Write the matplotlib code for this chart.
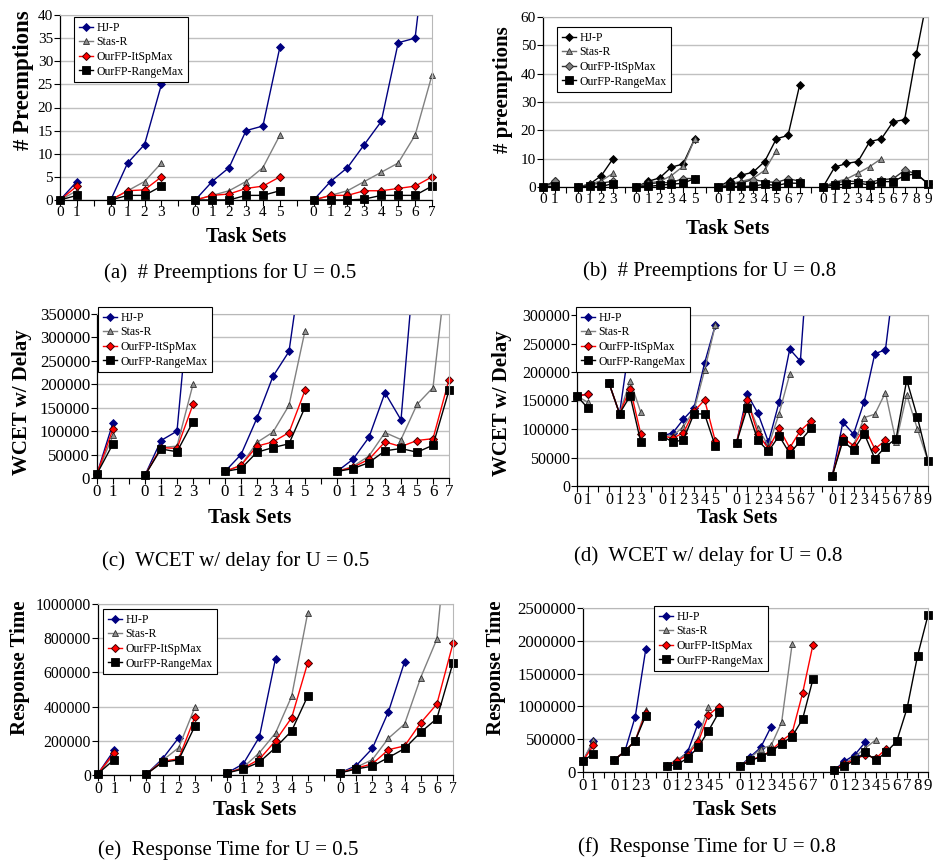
#
# Preemptions, WCET w/ delay and response time per task set (U = 0.5 / 0.8)
#
import numpy as np
import matplotlib
matplotlib.use("Agg")
import matplotlib.pyplot as plt
from matplotlib.ticker import FuncFormatter
from matplotlib.transforms import Bbox, TransformedBbox

nan = np.nan
names = ["HJ-P", "Stas-R", "OurFP-ItSpMax", "OurFP-RangeMax"]

# (a) # preemptions, U = 0.5
a_hjp = [[0, 4], [0, 8, 12, 25], [0, 4, 7, 15, 16, 33], [0, 4, 7, 12, 17, 34, 35, 66]]
a_stas = [[0, 2], [0, 2, 4, 8], [0, 1, 2, 4, 7, 14], [0, 1, 2, 4, 6, 8, 14, 27]]
a_itsp = [[0, 3], [0, 2, 2.2, 5], [0, 1, 1.3, 2.5, 3, 5], [0, 1, 1, 2, 2, 2.5, 3, 5]]
a_range = [[0, 1], [0, 1, 1, 3], [0, 0, 0, 1, 1, 2], [0, 0, 0, 0.2, 1, 1, 1, 3]]

# (b) # preemptions, U = 0.8
b_hjp = [[0, 2], [0, 1, 4, 10], [0, 2, 3.2, 7, 8.1, 17],
         [0, 2.2, 4.2, 5.2, 9, 17, 18.2, 36], [0, 7, 8.3, 9, 16, 17, 23, 23.8, 47, 68]]
b_stas = [[0, 1.2], [0, 1, 2.2, 4.8], [0, 1.4, 2, 4, 7.3, 16.9],
          [0, 1.2, 2, 3, 5.9, 12.8, nan, nan], [0, 1.8, 2.8, 4.9, 7.2, 10, nan, nan, nan, nan]]
b_itsp = [[0, 2], [0, 0.8, 1.4, 2], [0, 1, 1.6, 1.5, 3, 3],
          [0, 0.8, 1.5, 2.6, 1.9, 1.6, 2.9, 2.1], [0, 1.5, 2, 2, 1.7, 2.6, 2.9, 5.9, 4.7, 1.1]]
b_range = [[0, 0.2], [0, 0.2, 0.2, 1.2], [0, 0.2, 0.6, 1, 1.3, 3],
           [0, 0.2, 0.2, 0.3, 1, 0.5, 1.4, 1.3], [0, 0.7, 1, 1.4, 0.7, 1.9, 1.9, 4, 4.7, 1.1]]

# (c) WCET w/ delay, U = 0.5
c_hjp = [[9000, 118000], [6000, 80000, 100000, 470000],
         [14000, 50000, 128000, 217000, 270000, 510000],
         [14000, 40000, 87000, 182000, 124000, 526000, nan, nan]]
c_stas = [[9000, 91000], [6000, 65000, 68000, 200000],
          [14000, 27000, 76000, 98000, 155000, 314000],
          [14000, 25000, 47000, 97000, 82000, 157000, 193000, 494000]]
c_itsp = [[9000, 105000], [6000, 65000, 63000, 157000],
          [14000, 27000, 68000, 77000, 97000, 187000],
          [14000, 23000, 40000, 77000, 67000, 80000, 84000, 210000]]
c_range = [[9000, 73000], [6000, 62000, 56000, 120000],
           [14000, 20000, 55000, 65000, 73000, 151000],
           [14000, 20000, 33000, 58000, 63000, 55000, 70000, 187000]]

# (d) WCET w/ delay, U = 0.8
d_hjp = [[158000, 161000], [181000, 127000, 258000, 260000],
         [88000, 93000, 117000, 137000, 216000, 282000],
         [76000, 161000, 128000, 77000, 147000, 240000, 219000, 478000],
         [18000, 112000, 91000, 148000, 232000, 239000, 390000, nan, nan, nan]]
d_stas = [[158000, 147000], [181000, 127000, 185000, 129000],
          [88000, 88000, 104000, 133000, 203000, 282000],
          [76000, 150000, 102000, 70000, 127000, 196000, nan, nan],
          [18000, 83000, 72000, 120000, 126000, 164000, 77000, 160000, 100000, 44000]]
d_itsp = [[158000, 161000], [181000, 127000, 171000, 91000],
          [88000, 84000, 93000, 131000, 151000, 79000],
          [76000, 151000, 92000, 65000, 101000, 67000, 97000, 114000],
          [18000, 86000, 70000, 103000, 65000, 80000, nan, nan, nan, nan]]
d_range = [[158000, 137000], [181000, 127000, 158000, 77000],
           [88000, 77000, 81000, 127000, 126000, 70000],
           [76000, 137000, 80000, 61000, 88000, 57000, 79000, 101000],
           [18000, 79000, 63000, 92000, 48000, 69000, 83000, 186000, 121000, 44000]]

# (e) response time, U = 0.5
e_hjp = [[8000, 145000], [5000, 95000, 218000, nan],
         [12000, 65000, 222000, 680000, nan, nan],
         [12000, 55000, 155000, 370000, 662000, nan, nan, nan]]
e_stas = [[8000, 120000], [5000, 85000, 160000, 395000],
          [12000, 45000, 130000, 245000, 460000, 950000],
          [12000, 45000, 90000, 215000, 298000, 570000, 795000, 1780000]]
e_itsp = [[8000, 130000], [5000, 80000, 95000, 338000],
          [12000, 40000, 92000, 200000, 335000, 657000],
          [12000, 40000, 65000, 148000, 170000, 305000, 415000, 770000]]
e_range = [[8000, 90000], [5000, 75000, 88000, 285000],
           [12000, 35000, 75000, 160000, 258000, 462000],
           [12000, 35000, 52000, 102000, 155000, 250000, 330000, 657000]]

# (f) response time, U = 0.8
f_hjp = [[172000, 465000], [187000, 313000, 845000, 1868000],
         [96000, 170000, 303000, 735000, nan, nan],
         [85000, 230000, 374000, 693000, nan, nan, nan, nan],
         [25000, 161000, 263000, 455000, nan, nan, nan, nan, nan, nan]]
f_stas = [[172000, 490000], [187000, 313000, 480000, 946000],
          [96000, 191000, 280000, 500000, 997000, nan],
          [85000, 212000, 354000, 405000, 759000, 1948000, nan, nan],
          [25000, 127000, 232000, 364000, 490000, nan, nan, nan, nan, nan]]
f_itsp = [[172000, 404000], [187000, 313000, 480000, 900000],
          [96000, 161000, 262000, 450000, 870000, 997000],
          [85000, 190000, 230000, 330000, 476000, 592000, 1199000, 1943000],
          [25000, 127000, 190000, 263000, 207000, 354000, nan, nan, nan, nan]]
f_range = [[172000, 278000], [187000, 313000, 480000, 860000],
           [96000, 111000, 212000, 374000, 627000, 911000],
           [85000, 177000, 228000, 314000, 430000, 541000, 805000, 1417000],
           [25000, 96000, 176000, 303000, 176000, 303000, 465000, 972000, 1771000, 2390000]]


plt.rcParams['font.family'] = ['Liberation Serif', 'DejaVu Serif']

W, H = 933, 860
fig = plt.figure(figsize=(W / 100, H / 100), dpi=100)

color_styles = [
    dict(color='#000080', marker='D', ms=4, mfc='#000080', mec='#000080', mew=0.6),
    dict(color='#808080', marker='^', ms=5, mfc='#909090', mec='#303030', mew=0.6),
    dict(color='#ff0000', marker='D', ms=4, mfc='#ff0000', mec='#400000', mew=0.7),
    dict(color='#000000', marker='s', ms=5.5, mfc='#000000', mec='#000000', mew=0.6),
]
gray_styles = [
    dict(color='#000000', marker='D', ms=4, mfc='#000000', mec='#000000', mew=0.6),
    dict(color='#707070', marker='^', ms=5, mfc='#909090', mec='#303030', mew=0.6),
    dict(color='#303030', marker='D', ms=4.5, mfc='#808080', mec='#303030', mew=0.7),
    dict(color='#000000', marker='s', ms=6, mfc='#000000', mec='#000000', mew=0.6),
]


def join_groups(groups):
    vals = []
    for k, g in enumerate(groups):
        if k:
            vals.append(nan)
        vals.extend(g)
    return np.array(vals, dtype=float)


def group_labels(groups):
    labels = []
    for k, g in enumerate(groups):
        if k:
            labels.append('')
        labels.extend(str(i) for i in range(len(g)))
    return labels


def px_rect(x0, x1, ytop, ybot):
    return [x0 / W, 1 - ybot / H, (x1 - x0) / W, (ybot - ytop) / H]


def draw_panel(rect, series, styles, ymax, ystep, tick_fs, ylabel, ylab_xy, ylab_fs,
               xlab_xy, xlab_fs, caption, cap_xy, leg_xy):
    ax = fig.add_axes(px_rect(*rect))
    labels = group_labels(series[0])
    xs = np.arange(len(labels))
    clip = TransformedBbox(Bbox([[-0.04, -0.1], [1.04, 1.0]]), ax.transAxes)
    for name, groups, st in zip(names, series, styles):
        ln, = ax.plot(xs, join_groups(groups), lw=1.0, label=name, **st)
        ln.set_clip_box(clip)
    ax.set_xlim(0, len(labels) - 1)
    ax.set_ylim(0, ymax)
    ax.set_xticks(xs)
    ax.set_xticklabels(labels)
    ax.set_yticks(np.arange(0, ymax + ystep / 2, ystep))
    ax.yaxis.set_major_formatter(FuncFormatter(lambda v, p: f'{int(round(v))}'))
    ax.tick_params(direction='out', length=4, width=0.8, labelsize=tick_fs, pad=1)
    ax.tick_params(axis='x', pad=0.5)
    ax.yaxis.grid(True, color='#c0c0c0', lw=1.0)
    ax.set_axisbelow(True)
    for side in ('top', 'right'):
        ax.spines[side].set_color('#b8b8b8')
    for side in ('left', 'bottom'):
        ax.spines[side].set_linewidth(0.9)

    leg = ax.legend(loc='upper left', bbox_to_anchor=(leg_xy[0] / W, 1 - leg_xy[1] / H),
                    bbox_transform=fig.transFigure, borderaxespad=0, fontsize=8.5,
                    fancybox=False, framealpha=1, edgecolor='black', handlelength=1.2,
                    handletextpad=0.3, labelspacing=0.22, borderpad=0.4, numpoints=1)
    leg.get_frame().set_linewidth(0.8)
    leg.set_zorder(10)

    fig.text(ylab_xy[0] / W, 1 - ylab_xy[1] / H, ylabel, rotation=90, ha='center',
             va='center', fontsize=ylab_fs, fontweight='bold')
    fig.text(xlab_xy[0] / W, 1 - xlab_xy[1] / H, 'Task Sets', ha='center', va='center',
             fontsize=xlab_fs, fontweight='bold')
    fig.text(cap_xy[0] / W, 1 - cap_xy[1] / H, caption, ha='center', va='center',
             fontsize=15)
    return ax


draw_panel((60, 432, 15, 200), [a_hjp, a_stas, a_itsp, a_range], color_styles,
           40, 5, 11, '# Preemptions', (24, 80), 16.5, (246, 237), 14.5,
           '(a)  # Preemptions for U = 0.5', (230, 273), (74, 17))
draw_panel((543, 928, 17, 187), [b_hjp, b_stas, b_itsp, b_range], gray_styles,
           60, 10, 11, '# preemptions', (503, 90), 15, (728, 229), 15,
           '(b)  # Preemptions for U = 0.8', (710, 271), (557, 27))
draw_panel((97, 449, 314, 478), [c_hjp, c_stas, c_itsp, c_range], color_styles,
           350000, 50000, 12.2, 'WCET w/ Delay', (22, 402), 15, (250, 518), 15,
           '(c)  WCET w/ delay for U = 0.5', (236, 561), (98, 307))
draw_panel((577, 928, 315, 486), [d_hjp, d_stas, d_itsp, d_range], color_styles,
           300000, 50000, 11.5, 'WCET w/ Delay', (502, 403), 15, (737, 518), 14.5,
           '(d)  WCET w/ delay for U = 0.8', (708, 556), (576, 307))
draw_panel((98, 453, 604, 775), [e_hjp, e_stas, e_itsp, e_range], color_styles,
           1000000, 200000, 11.3, 'Response Time', (20, 668), 15, (255, 810), 15,
           '(e)  Response Time for U = 0.5', (228, 850), (103, 609))
draw_panel((583, 928, 608, 772), [f_hjp, f_stas, f_itsp, f_range], color_styles,
           2500000, 500000, 12.2, 'Response Time', (496, 668), 15, (735, 810), 15,
           '(f)  Response Time for U = 0.8', (707, 847), (654, 606))

plt.savefig("out.png", dpi=100)
